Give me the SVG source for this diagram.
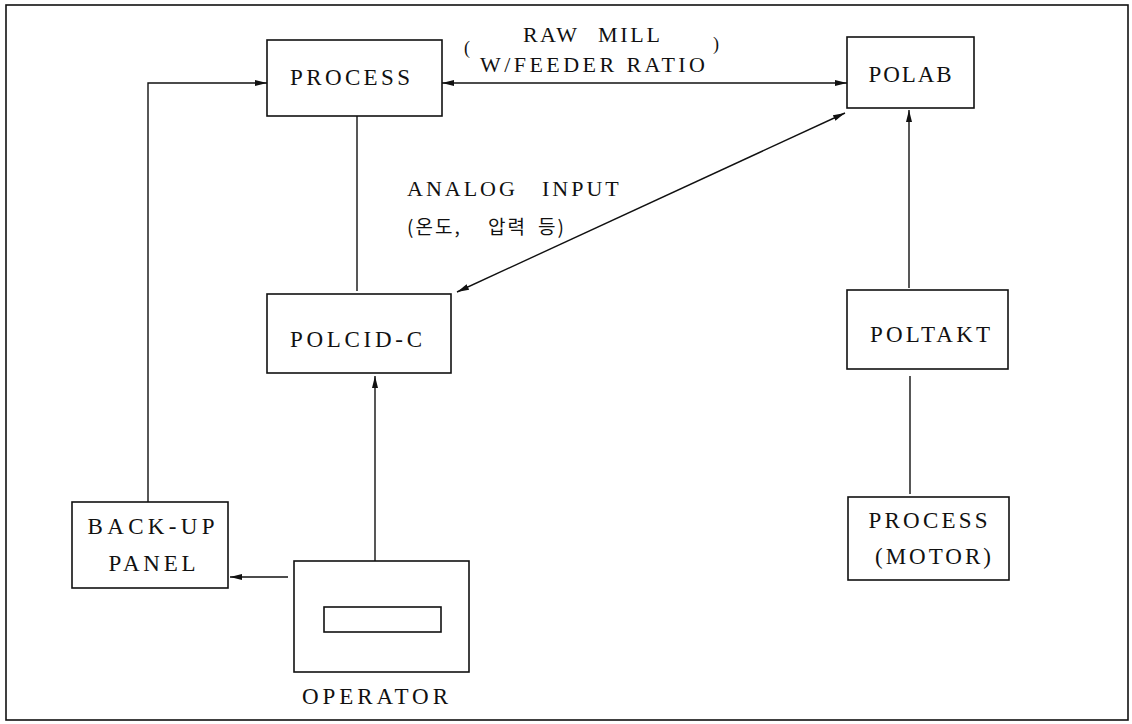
<svg xmlns="http://www.w3.org/2000/svg" width="1132" height="724" viewBox="0 0 1132 724">
<style>
.box{fill:none;stroke:#111;stroke-width:1.6}
.ln{fill:none;stroke:#111;stroke-width:1.4}
.t{font-family:"Liberation Serif","Noto Sans CJK KR",serif;font-size:23px;fill:#111;text-anchor:middle}
.s{font-family:"Liberation Serif","Noto Sans CJK KR",serif;font-size:22px;fill:#111}
.k{font-family:"Noto Sans CJK KR",sans-serif;font-size:19px;fill:#111;letter-spacing:2px}
</style>
<defs>
<marker id="ah" viewBox="0 0 12 8" refX="12" refY="4" markerWidth="12" markerHeight="8" markerUnits="userSpaceOnUse" orient="auto-start-reverse">
<path d="M0,1 L12,4 L0,7 z" fill="#111"/>
</marker>
</defs>
<rect x="6" y="5" width="1122" height="715" class="box" stroke-width="2"/>
<g id="connectors">
<line x1="442" y1="83" x2="847" y2="83" class="ln" marker-start="url(#ah)" marker-end="url(#ah)"/>
<polyline points="148,502 148,83 267,83" class="ln" marker-end="url(#ah)"/>
<line x1="357" y1="116" x2="357" y2="291" class="ln"/>
<line x1="457" y1="292" x2="845" y2="113" class="ln" marker-start="url(#ah)" marker-end="url(#ah)"/>
<line x1="375" y1="561" x2="375" y2="376" class="ln" marker-end="url(#ah)"/>
<line x1="288" y1="577" x2="230" y2="577" class="ln" marker-end="url(#ah)"/>
<line x1="909" y1="288" x2="909" y2="110" class="ln" marker-end="url(#ah)"/>
<line x1="910" y1="376" x2="910" y2="494" class="ln"/>
<text x="523" y="42" class="s" textLength="54">RAW</text>
<text x="598" y="42" class="s" textLength="62">MILL</text>
<text x="467" y="54" class="s" style="font-size:18px;text-anchor:middle">(</text>
<text x="716" y="50" class="s" style="font-size:18px;text-anchor:middle">)</text>
<text x="480" y="72" class="s" textLength="225">W/FEEDER RATIO</text>
<text x="407" y="196" class="s" style="letter-spacing:3px">ANALOG<tspan x="542">INPUT</tspan></text>
<text x="407" y="234" class="k">(온도,<tspan x="488">압력</tspan><tspan x="538">등)</tspan></text>
</g>
<g id="process"><rect x="267" y="40" width="175" height="76" class="box"/><text x="350" y="85" class="t" textLength="120">PROCESS</text></g>
<g id="polab"><rect x="847" y="37" width="127" height="71" class="box"/><text x="910" y="82" class="t" textLength="83">POLAB</text></g>
<g id="polcid"><rect x="267" y="294" width="184" height="79" class="box"/><text x="356" y="347" class="t" textLength="132">POLCID-C</text></g>
<g id="poltakt"><rect x="847" y="290" width="161" height="79" class="box"/><text x="930" y="342" class="t" textLength="120">POLTAKT</text></g>
<g id="process-motor"><rect x="848" y="497" width="161" height="83" class="box"/><text x="928" y="528" class="t" textLength="119">PROCESS</text><text x="933" y="564" class="t" textLength="116">(MOTOR)</text></g>
<g id="backup"><rect x="72" y="502" width="156" height="86" class="box"/><text x="151" y="534" class="t" textLength="127">BACK-UP</text><text x="152" y="571" class="t" textLength="87">PANEL</text></g>
<g id="operator"><rect x="294" y="561" width="175" height="111" class="box"/><rect x="324" y="607" width="117" height="25" class="box"/><text x="375" y="704" class="t" textLength="146">OPERATOR</text></g>
</svg>
